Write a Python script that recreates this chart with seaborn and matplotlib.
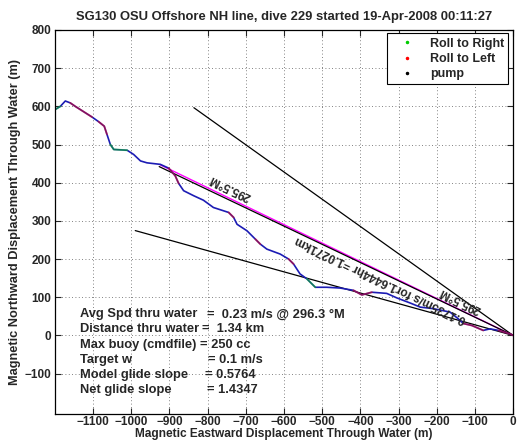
import numpy as np
import matplotlib
matplotlib.use("Agg")
import matplotlib.pyplot as plt
import seaborn as sns
from matplotlib.lines import Line2D

sns.set_style("ticks")
plt.rcParams['font.family'] = ['Liberation Sans', 'DejaVu Sans']
plt.rcParams['font.weight'] = 'bold'
plt.rcParams['axes.titleweight'] = 'bold'
plt.rcParams['axes.labelweight'] = 'bold'

# glider track through water (m), from dive start at the origin
east = [0, -8, -38, -60, -78, -108, -130, -143, -165, -209, -243, -270, -304, -331,
        -370, -396, -418, -453, -488, -518, -540, -558, -575, -588, -610, -645, -662,
        -675, -697, -723, -732, -745, -785, -811, -837, -863, -876, -885, -902, -924,
        -959, -976, -994, -1011, -1046, -1055, -1064, -1071, -1086, -1103, -1125,
        -1147, -1160, -1173, -1186, -1199]
north = [0, 4, 13, 17, 13, 26, 31, 43, 61, 70, 74, 85, 98, 110,
         113, 106, 118, 124, 126, 126, 148, 161, 187, 200, 213, 226, 239,
         252, 274, 291, 309, 322, 335, 354, 366, 379, 398, 418, 438, 448,
         452, 457, 474, 485, 487, 500, 527, 548, 560, 572, 586,
         600, 609, 614, 600, 592]

# index ranges of the track flagged by roll direction
roll_left = [(0, 2), (4, 6), (14, 16), (22, 23), (26, 27), (30, 31), (36, 38), (46, 48), (49, 52)]
roll_right = [(19, 20), (43, 45), (54, 55)]

# heading lines (deg magnetic) and their length (m)
headings = [285.5, 295.5, 305.5]
track_heading = 295.8
line_len = 1027.1

stats_labels = ["Avg Spd thru water", "Distance thru water", "Max buoy (cmdfile)",
                "Target w", "Model glide slope", "Net glide slope"]
stats_values = ["=  0.23 m/s @ 296.3 °M", "=  1.34 km", "= 250 cc",
                "= 0.1 m/s", "= 0.5764", "= 1.4347"]


def endpoint(hdg, length):
    h = np.deg2rad(hdg)
    return length * np.sin(h), length * np.cos(h)


def screen_angle(hdg):
    h = np.deg2rad(hdg)
    return np.degrees(np.arctan2(np.cos(h), np.sin(h)))


fig = plt.figure(figsize=(5.25, 4.42), dpi=100)
ax = fig.add_axes([55 / 525, 28 / 442, 458 / 525, 384 / 442])

ax.grid(True, color="0.35", linestyle=(0, (1, 3)), linewidth=0.6)
ax.set_axisbelow(True)

ex, ny = endpoint(track_heading, line_len)
ax.plot([0, ex], [0, ny], color="magenta", lw=1.0)
for hdg in headings:
    ex, ny = endpoint(hdg, line_len)
    ax.plot([0, ex], [0, ny], color="black", lw=0.9)

sns.lineplot(x=east, y=north, sort=False, estimator=None, color="#1c1cb4", lw=1.2, ax=ax)
for a, b in roll_left:
    ax.plot(east[a:b + 1], north[a:b + 1], color="red", alpha=0.45, lw=1.4)
for a, b in roll_right:
    ax.plot(east[a:b + 1], north[a:b + 1], color="#00dd00", alpha=0.45, lw=1.4)

rot = screen_angle(295.5)
ax.text(-137, 93, "295.5°M", rotation=rot, rotation_mode="anchor", ha="center", va="center", fontsize=8.6)
ax.text(-345, 146, "0.1735m/s for1.6444hr =1.0271km", rotation=rot, rotation_mode="anchor",
        ha="center", va="center", fontsize=8.6)
ax.text(-741, 388, "295.5°M", rotation=rot, rotation_mode="anchor", ha="center", va="center", fontsize=8.6)

ys = [55, 16, -24, -65, -105, -144]
xv = [-803, -816, -820, -799, -807, -803]
for lab, val, y, x in zip(stats_labels, stats_values, ys, xv):
    ax.text(-1134, y, lab, va="center", fontsize=9.3)
    ax.text(x, y, val, va="center", fontsize=9.3)

ax.set_xlim(-1200, 0)
ax.set_ylim(-206, 800)
ax.set_xticks(range(-1100, 1, 100))
ax.set_yticks(range(-100, 801, 100))
ax.tick_params(direction="in", length=4, width=0.8, top=True, right=True, labelsize=8.5, pad=2.5)
ax.tick_params(axis="x", pad=1.5)
for s in ax.spines.values():
    s.set_color("black")
    s.set_linewidth(0.9)

ax.set_title("SG130 OSU Offshore NH line, dive 229 started 19-Apr-2008 00:11:27", fontsize=9.4, pad=7)
ax.set_xlabel("Magnetic Eastward Displacement Through Water (m)", fontsize=8.6, labelpad=-0.3)
ax.set_ylabel("Magnetic Northward Displacement Through Water (m)", fontsize=9.2, labelpad=3)

handles = [Line2D([], [], ls="", marker=".", ms=3, color=c) for c in ["#00cc00", "red", "black"]]
leg = ax.legend(handles, ["Roll to Right", "Roll to Left", "pump"], loc="upper right",
                bbox_to_anchor=(0.990, 0.991), borderaxespad=0, fontsize=9, fancybox=False,
                framealpha=1, edgecolor="black", handlelength=2.5, handletextpad=0.6,
                labelspacing=0.25, borderpad=0.35)
leg.get_frame().set_linewidth(0.8)

fig.savefig("out.png", dpi=100)
plt.close(fig)
